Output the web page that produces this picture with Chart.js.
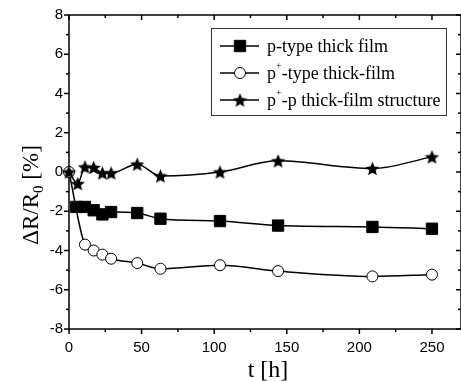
<!DOCTYPE html>
<html>
<head>
<meta charset="utf-8">
<script src="https://cdn.jsdelivr.net/npm/chart.js@4"></script>
<style>
  html, body { margin: 0; padding: 0; background: #fff; overflow: hidden; }
  #myChart { display: block; }
</style>
</head>
<body>
<canvas id="myChart" width="470" height="381"></canvas>
<script>
// Values (t in hours, dR/R0 in %)
const tSquare = [5, 11, 17, 23, 29, 47, 63, 104, 144, 209, 250];
const pType = [-1.78, -1.78, -1.95, -2.16, -2.04, -2.09, -2.38, -2.50, -2.73, -2.80, -2.89];
const tCircle = [0, 11, 17, 23, 29, 47, 63, 104, 144, 209, 250];
const pPlusType = [0, -3.70, -4.00, -4.21, -4.42, -4.64, -4.93, -4.75, -5.05, -5.32, -5.23];
const tStar = [0, 6, 11, 17, 23, 29, 47, 63, 104, 144, 209, 250];
const pPlusP = [0, -0.59, 0.26, 0.23, -0.05, -0.05, 0.40, -0.20, 0.00, 0.57, 0.18, 0.77];

const xTicks = [0, 50, 100, 150, 200, 250];
const yTicks = [-8, -6, -4, -2, 0, 2, 4, 6, 8];
// legend labels split as [base, superscript, rest]
const seriesLabels = [
    ['p-type thick film', '', ''],
    ['p', '+', '-type thick-film'],
    ['p', '+', '-p thick-film structure']
];

// filled five-point star used as point style
function makeStar(size) {
    const c = document.createElement('canvas');
    c.width = size;
    c.height = size;
    const g = c.getContext('2d');
    const R = size / 2, r = R * 0.45;
    g.beginPath();
    for (let i = 0; i < 10; i++) {
        const rad = i % 2 ? r : R;
        const a = -Math.PI / 2 + i * Math.PI / 5;
        g.lineTo(R + rad * Math.cos(a), R + 0.8 + rad * Math.sin(a));
    }
    g.closePath();
    g.fillStyle = '#000';
    g.fill();
    return c;
}
const starImg = makeStar(15);

function toPoints(ts, vals) {
    return ts.map((t, i) => ({ x: t, y: vals[i] }));
}

function line(ctx, x1, y1, x2, y2) {
    ctx.beginPath();
    ctx.moveTo(x1, y1);
    ctx.lineTo(x2, y2);
    ctx.stroke();
}

// frame with inner ticks on top/right, outer ticks on bottom/left
const framePlugin = {
    id: 'frame',
    beforeDatasetsDraw(chart) {
        const { ctx, chartArea: a, scales: { x, y } } = chart;
        ctx.save();
        ctx.strokeStyle = '#000';
        ctx.lineWidth = 1.5;
        ctx.strokeRect(a.left, a.top, a.right - a.left, a.bottom - a.top);
        for (let v = 0; v <= 270; v += 25) {
            const px = x.getPixelForValue(v);
            const len = v % 50 === 0 ? 5 : 3;
            line(ctx, px, a.bottom, px, a.bottom + len);
            line(ctx, px, a.top, px, a.top + len);
        }
        for (let v = -8; v <= 8; v++) {
            const py = y.getPixelForValue(v);
            const len = v % 2 === 0 ? 5 : 3;
            line(ctx, a.left - len, py, a.left, py);
            line(ctx, a.right - len, py, a.right, py);
        }
        ctx.restore();
    },
    afterDraw(chart) {
        const { ctx } = chart;
        ctx.save();
        ctx.fillStyle = '#000';

        // x title
        ctx.font = '24px "Liberation Serif"';
        ctx.textAlign = 'center';
        ctx.textBaseline = 'alphabetic';
        ctx.fillText('t [h]', 268, 377);

        // y title with subscript
        ctx.save();
        ctx.translate(38, 195);
        ctx.rotate(-Math.PI / 2);
        ctx.textAlign = 'left';
        const big = '23px "Liberation Serif"', small = '15px "Liberation Serif"';
        ctx.font = big;
        const w1 = ctx.measureText('\u0394R/R').width;
        const w3 = ctx.measureText(' [%]').width;
        ctx.font = small;
        const w2 = ctx.measureText('0').width;
        const sx = -(w1 + w2 + w3) / 2;
        ctx.font = big;
        ctx.fillText('\u0394R/R', sx, 0);
        ctx.font = small;
        ctx.fillText('0', sx + w1, 5);
        ctx.font = big;
        ctx.fillText(' [%]', sx + w1 + w2, 0);
        ctx.restore();

        // legend box
        ctx.strokeStyle = '#333';
        ctx.lineWidth = 1;
        ctx.strokeRect(211.5, 28.5, 235, 87);
        const rowY = [46, 73, 100];
        chart.data.datasets.forEach((ds, i) => {
            const ly = rowY[i];
            ctx.strokeStyle = '#000';
            ctx.lineWidth = 1.5;
            line(ctx, 220, ly, 259, ly);
            ctx.fillStyle = ds.pointBackgroundColor;
            ctx.lineWidth = ds.pointBorderWidth;
            Chart.helpers.drawPoint(ctx, {
                pointStyle: ds.pointStyle,
                radius: ds.pointRadius,
                rotation: 0,
                borderWidth: ds.pointBorderWidth
            }, 240, ly);
            const [base, sup, rest] = seriesLabels[i];
            ctx.fillStyle = '#000';
            ctx.textAlign = 'left';
            ctx.textBaseline = 'middle';
            ctx.font = '18px "Liberation Serif"';
            let tx = 267;
            ctx.fillText(base, tx, ly + 1);
            tx += ctx.measureText(base).width;
            if (sup) {
                ctx.font = '10px "Liberation Serif"';
                ctx.fillText(sup, tx, ly - 7);
                tx += ctx.measureText(sup).width;
                ctx.font = '18px "Liberation Serif"';
                ctx.fillText(rest, tx, ly + 1);
            }
        });
        ctx.restore();
    }
};

const tickFont = { family: 'Liberation Sans', size: 15 };

const ctx = document.getElementById('myChart');
new Chart(ctx, {
    type: 'line',
    data: {
        datasets: [{
            label: 'p-type thick film',
            data: toPoints(tSquare, pType),
            order: 2,
            borderColor: '#000',
            borderWidth: 1.5,
            cubicInterpolationMode: 'monotone',
            pointStyle: 'rect',
            pointRadius: 8,
            pointBackgroundColor: '#000',
            pointBorderColor: '#000',
            pointBorderWidth: 1,
            clip: false
        }, {
            label: 'p+-type thick-film',
            data: toPoints(tCircle, pPlusType),
            order: 1,
            borderColor: '#000',
            borderWidth: 1.5,
            cubicInterpolationMode: 'monotone',
            pointStyle: 'circle',
            pointRadius: 5.5,
            pointBackgroundColor: '#fff',
            pointBorderColor: '#000',
            pointBorderWidth: 1,
            clip: false
        }, {
            label: 'p+-p thick-film structure',
            data: toPoints(tStar, pPlusP),
            order: 0,
            borderColor: '#000',
            borderWidth: 1.5,
            cubicInterpolationMode: 'monotone',
            pointStyle: starImg,
            pointRadius: 7,
            pointBackgroundColor: '#000',
            pointBorderColor: '#000',
            pointBorderWidth: 1,
            clip: false
        }]
    },
    options: {
        responsive: false,
        animation: false,
        layout: { padding: { top: 15, right: 7, bottom: 0, left: 0 } },
        plugins: {
            legend: { display: false },
            tooltip: { enabled: false }
        },
        scales: {
            x: {
                type: 'linear',
                min: 0,
                max: 270,
                afterBuildTicks: s => { s.ticks = xTicks.map(v => ({ value: v })); },
                afterFit: s => { s.height = 52; },
                grid: { display: false, drawTicks: false },
                border: { display: false },
                ticks: { padding: 10, color: '#000', font: tickFont, maxRotation: 0 }
            },
            y: {
                type: 'linear',
                min: -8,
                max: 8,
                afterBuildTicks: s => { s.ticks = yTicks.map(v => ({ value: v })); },
                afterFit: s => { s.width = 69; },
                grid: { display: false, drawTicks: false },
                border: { display: false },
                ticks: { padding: 6, color: '#000', font: tickFont }
            }
        }
    },
    plugins: [framePlugin]
});
</script>
</body>
</html>
